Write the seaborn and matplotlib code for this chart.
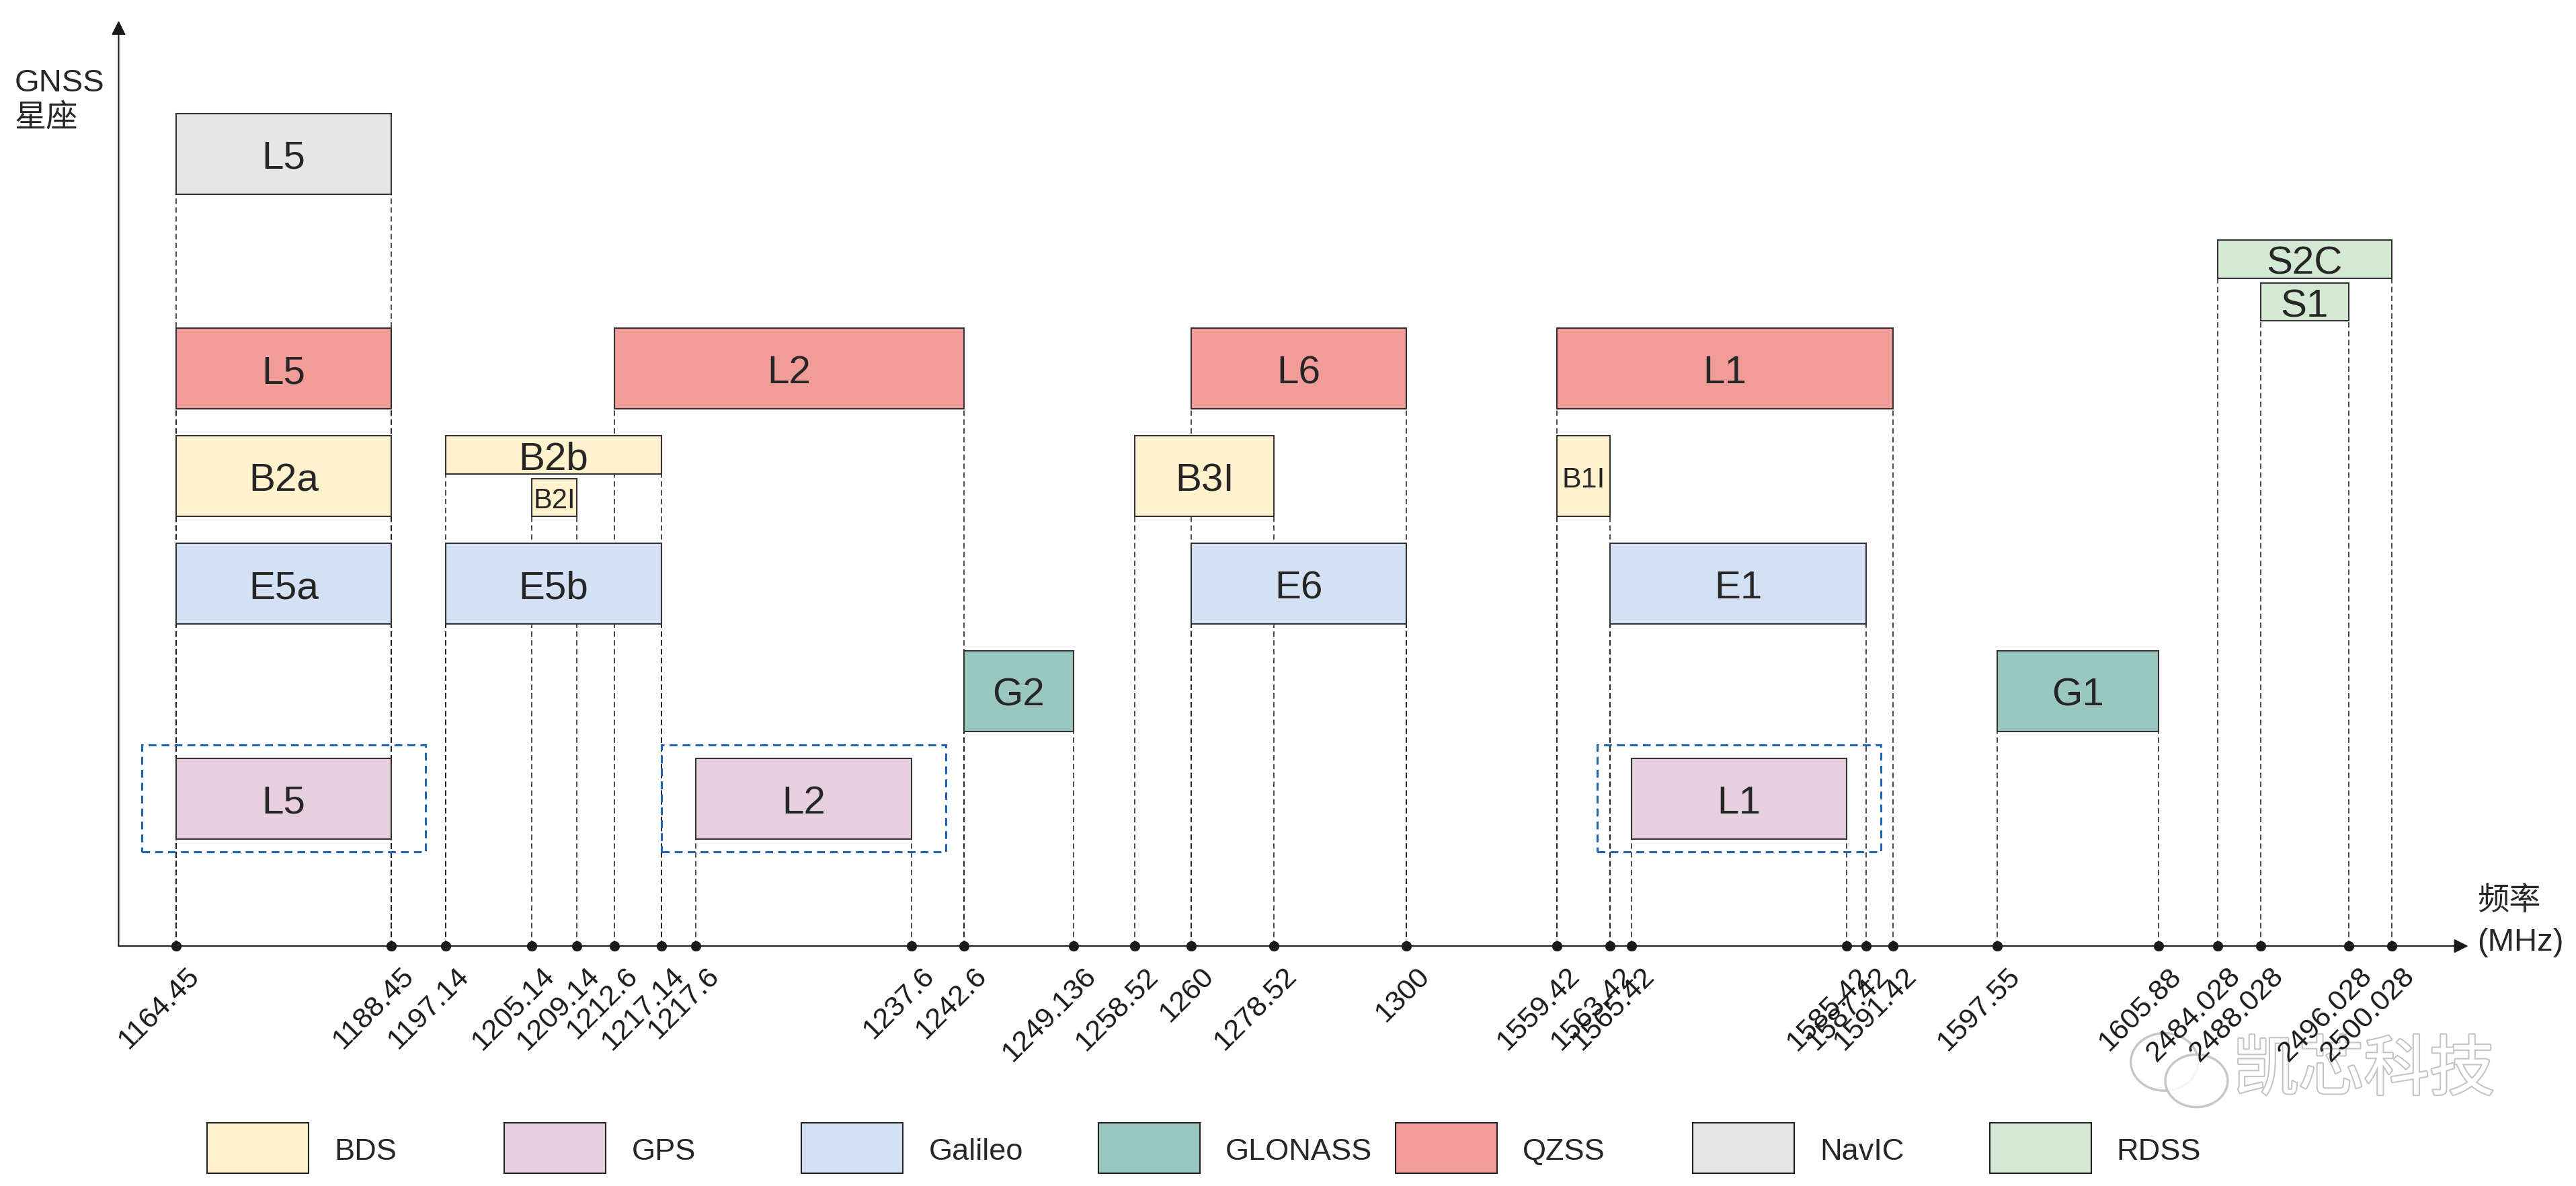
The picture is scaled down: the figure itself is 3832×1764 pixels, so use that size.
import numpy as np
import matplotlib
matplotlib.use('Agg')
import matplotlib.pyplot as plt
from matplotlib.patches import Rectangle, Ellipse
from matplotlib.ticker import NullLocator
import matplotlib.transforms as mtransforms
import matplotlib.patheffects as pe
import seaborn as sns

# ---- data ----
tick_freqs = [1164.45, 1188.45, 1197.14, 1205.14, 1209.14, 1212.6, 1217.14, 1217.6,
              1237.6, 1242.6, 1249.136, 1258.52, 1260, 1278.52, 1300,
              1559.42, 1563.42, 1565.42, 1585.42, 1587.42, 1591.42, 1597.55, 1605.88,
              2484.028, 2488.028, 2496.028, 2500.028]
tick_labels = ['1164.45', '1188.45', '1197.14', '1205.14', '1209.14', '1212.6', '1217.14', '1217.6',
               '1237.6', '1242.6', '1249.136', '1258.52', '1260', '1278.52', '1300',
               '1559.42', '1563.42', '1565.42', '1585.42', '1587.42', '1591.42', '1597.55', '1605.88',
               '2484.028', '2488.028', '2496.028', '2500.028']

systems = ['BDS', 'GPS', 'Galileo', 'GLONASS', 'QZSS', 'NavIC', 'RDSS']
sys_colors = ['#fff2cc', '#e6d0de', '#d4e1f5', '#9ac7bf', '#f19c99', '#e6e6e6', '#d5e8d4']

sig_name = ['L5', 'L5', 'L2', 'L6', 'L1',
            'B2a', 'B2b', 'B2I', 'B3I', 'B1I',
            'E5a', 'E5b', 'E6', 'E1',
            'G2', 'G1',
            'L5', 'L2', 'L1',
            'S2C', 'S1']
sig_sys = ['NavIC', 'QZSS', 'QZSS', 'QZSS', 'QZSS',
           'BDS', 'BDS', 'BDS', 'BDS', 'BDS',
           'Galileo', 'Galileo', 'Galileo', 'Galileo',
           'GLONASS', 'GLONASS',
           'GPS', 'GPS', 'GPS',
           'RDSS', 'RDSS']
sig_lo = [1164.45, 1164.45, 1212.6, 1260, 1559.42,
          1164.45, 1197.14, 1205.14, 1258.52, 1559.42,
          1164.45, 1197.14, 1260, 1563.42,
          1242.6, 1597.55,
          1164.45, 1217.6, 1565.42,
          2484.028, 2488.028]
sig_hi = [1188.45, 1188.45, 1242.6, 1300, 1591.42,
          1188.45, 1217.14, 1209.14, 1278.52, 1563.42,
          1188.45, 1217.14, 1300, 1587.42,
          1249.136, 1605.88,
          1188.45, 1237.6, 1585.42,
          2500.028, 2496.028]
sig_part = ['full'] * 6 + ['upper', 'lower'] + ['full'] * 11 + ['upper', 'lower']
highlight_sys = 'GPS'

# ---- layout ----
W, H = 1568, 722
tick_pos = np.array([107.2, 238.1, 271.4, 323.6, 351.1, 374.2, 402.6, 423.7,
                     554.7, 586.7, 653.3, 690.9, 724.9, 775.4, 856.1,
                     947.7, 980.2, 993.1, 1124.0, 1136.0, 1152.4, 1215.6, 1314.0,
                     1349.7, 1376.0, 1429.8, 1455.8])
tf = np.array(tick_freqs)
row_slot = {'GPS': 0, 'GLONASS': 1, 'Galileo': 2, 'BDS': 3, 'QZSS': 4, 'RDSS': 4.82, 'NavIC': 6}
label_size = {'B2I': 30, 'B1I': 31}
half, gap = 0.375, 0.023


def _extrap(v, xs, ys):
    v = np.asarray(v, dtype=float)
    out = np.interp(v, xs, ys)
    s0 = (ys[1] - ys[0]) / (xs[1] - xs[0])
    s1 = (ys[-1] - ys[-2]) / (xs[-1] - xs[-2])
    out = np.where(v < xs[0], ys[0] + (v - xs[0]) * s0, out)
    out = np.where(v > xs[-1], ys[-1] + (v - xs[-1]) * s1, out)
    return out


def fwd(f):
    return _extrap(f, tf, tick_pos)


def inv(p):
    return _extrap(p, tick_pos, tf)


sns.set_theme(style='white')
plt.rcParams['font.family'] = ['Liberation Sans', 'Noto Sans CJK SC']

fig = plt.figure(figsize=(38.32, 17.65), dpi=100)
lay = fig.add_axes([0, 0, 1, 1])
lay.set_xlim(0, W)
lay.set_ylim(H, 0)
lay.axis('off')

axis_x0, axis_x1, axis_y, axis_top = 72.2, 1502.4, 576.0, 13.0
slot_px, gps_y = 65.4, 486.3
ax = fig.add_axes([axis_x0 / W, 1 - axis_y / H, (axis_x1 - axis_x0) / W, (axis_y - axis_top) / H])
ax.patch.set_alpha(0)
ax.set_xscale('function', functions=(fwd, inv))
ax.set_xlim(inv(axis_x0), inv(axis_x1))
ymin = -(axis_y - gps_y) / slot_px
ax.set_ylim(ymin, (gps_y - axis_top) / slot_px)
for s in ax.spines.values():
    s.set_visible(False)
ax.grid(False)

arrow = dict(arrowstyle='-|>,head_length=0.4,head_width=0.2', lw=1.5, color='k',
             mutation_scale=32, shrinkA=0, shrinkB=0)
ax.annotate('', xy=(1, 0), xytext=(0, 0), xycoords='axes fraction', arrowprops=arrow, annotation_clip=False)
ax.annotate('', xy=(0, 1), xytext=(0, 0), xycoords='axes fraction', arrowprops=arrow, annotation_clip=False)

ax.set_xticks(tick_freqs, tick_labels)
ax.xaxis.set_minor_locator(NullLocator())
ax.set_yticks([])
ax.tick_params(axis='x', length=0, pad=17, labelcolor='k')
shift = mtransforms.ScaledTranslation(10 / 72, 0, fig.dpi_scale_trans)
for lbl in ax.get_xticklabels():
    lbl.set_fontsize(31)
    lbl.set_rotation(45)
    lbl.set_ha('right')
    lbl.set_va('top')
    lbl.set_rotation_mode('anchor')
    lbl.set_transform(lbl.get_transform() + shift)

ax.plot(tick_freqs, np.full(len(tick_freqs), ymin), 'o', color='k', ms=10, clip_on=False, zorder=6)

color_of = dict(zip(systems, sys_colors))
for name, sy, lo, hi, part in zip(sig_name, sig_sys, sig_lo, sig_hi, sig_part):
    yc = row_slot[sy]
    if part == 'upper':
        y0, y1 = yc + gap, yc + half
    elif part == 'lower':
        y0, y1 = yc - half, yc - gap
    else:
        y0, y1 = yc - half, yc + half
    ax.barh((y0 + y1) / 2, hi - lo, left=lo, height=y1 - y0, color=color_of[sy],
            edgecolor='#333333', linewidth=1.5, zorder=3)
    ax.vlines([lo, hi], ymin, y0, colors='k', linestyles=(0, (5.3, 3.3)), linewidth=1.1, zorder=1)
    xc = inv((fwd(lo) + fwd(hi)) / 2)
    ax.text(xc, (y0 + y1) / 2, name, ha='center', va='center_baseline',
            fontsize=label_size.get(name, 42), zorder=4)
    if sy == highlight_sys:
        bx0, bx1 = inv(fwd(lo) - 21), inv(fwd(hi) + 21)
        ax.add_patch(Rectangle((bx0, yc - 0.497), bx1 - bx0, 0.994, fill=False,
                               edgecolor='#1f63b4', linewidth=2.2,
                               linestyle=(0, (3.8, 2.5)), zorder=5))

# axis titles
lay.text(8.8, 48.8, 'GNSS', fontsize=34, va='center_baseline', ha='left')
lay.text(8.8, 72.5, '星座', fontsize=34, va='center', ha='left')
lay.text(1508, 548.7, '频率', fontsize=34, va='center', ha='left')
lay.text(1508, 571.6, '(MHz)', fontsize=34, va='center_baseline', ha='left')

# legend
for i, (sy, c) in enumerate(zip(systems, sys_colors)):
    x0 = 126.2 + i * 180.8
    lay.add_patch(Rectangle((x0, 683.6), 61.8, 30.7, facecolor=c, edgecolor='#222222', linewidth=1.5))
    lay.text(x0 + 77.4, 699, sy, fontsize=32.5, va='center_baseline', ha='left')

# watermark
for (cx, cy, w, h) in [(1317.5, 646.5, 41, 35), (1337, 658, 38, 32)]:
    lay.add_patch(Ellipse((cx, cy), w, h, facecolor='white', edgecolor='#bdbdbd', linewidth=2.5, alpha=0.85, zorder=8))
lay.text(1439, 652, '凯芯科技', fontsize=70, ha='center', va='center', color='white', zorder=9,
         family=['Noto Sans CJK SC'],
         path_effects=[pe.withStroke(linewidth=3, foreground='#c4c4c4')])

fig.savefig('out.png', dpi=100)
